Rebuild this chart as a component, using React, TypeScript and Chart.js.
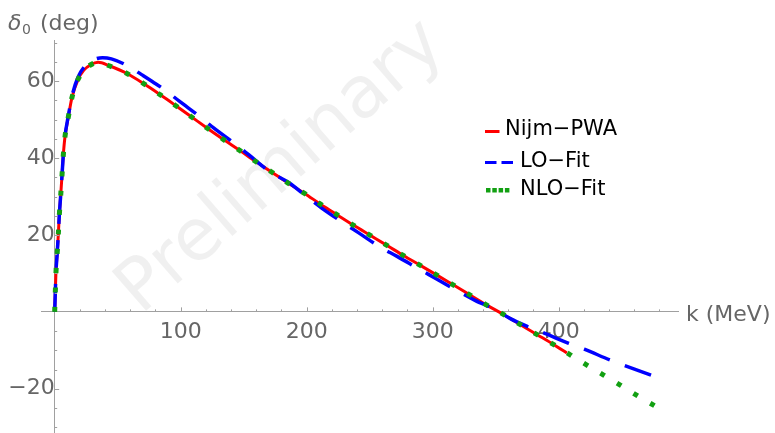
import React, { useEffect, useRef } from 'react';
import { Chart, registerables } from 'chart.js';

Chart.register(...registerables);

// Nijmegen PWA phase shift (deg) vs k (MeV)
const nijmK = [0, 0.5, 1, 2, 2.9, 3.7, 4.8, 5.8, 6.8, 8.2, 10.8, 13.7, 18.5, 23, 28.3, 34.6, 43.3, 57.4, 70.9, 83.6, 96.2, 109, 121.4, 134.1, 146.8, 159.5, 172.5, 185.2, 198.3, 211, 224.3, 237.3, 250.5, 263.7, 277, 290.2, 303.7, 316.9, 330.1, 343.3, 356.8, 370, 383.3, 396.5, 406.5];
const nijmDelta = [0, 5.1, 10.1, 15.3, 20.2, 25.3, 30.4, 35.4, 40.6, 45.6, 50.6, 55.7, 60.4, 62.8, 64.2, 64.9, 64.0, 62.0, 59.3, 56.5, 53.6, 50.6, 47.7, 44.8, 42.0, 39.1, 36.3, 33.5, 30.8, 28.0, 25.2, 22.5, 19.9, 17.3, 14.6, 12.1, 9.5, 6.9, 4.3, 1.7, -0.8, -3.4, -6.0, -8.6, -10.7];

// LO fit
const loK = [0, 0.5, 1, 2, 2.9, 3.7, 4.8, 5.8, 6.8, 8.2, 10.8, 13.7, 18.5, 25, 31, 38, 45, 57.9, 69, 78, 87.5, 98.9, 115.9, 125.9, 143.9, 154.2, 170.9, 185.4, 200, 211.9, 229.8, 241, 259.5, 271.4, 289.9, 302.4, 321.1, 333.6, 350.8, 361.3, 375.9, 389, 408, 420.3, 441.5, 476];
const loDelta = [0, 5.1, 10.1, 15.3, 20.2, 25.3, 30.4, 35.4, 40.6, 45.7, 50.9, 56.0, 61.0, 64.3, 65.6, 66.1, 65.8, 64.0, 61.7, 59.8, 57.7, 54.8, 50.6, 47.9, 43.5, 40.8, 36.4, 33.7, 30.0, 27.0, 23.0, 20.6, 16.6, 14.5, 11.0, 8.7, 5.2, 3.0, 0.4, -1.7, -3.9, -5.6, -8.2, -9.7, -12.6, -16.8];

// NLO fit
const nloK = [0, 0.5, 1, 2, 2.9, 3.7, 4.8, 5.8, 6.8, 8.2, 10.8, 13.7, 18.5, 23, 28.3, 34.6, 43.3, 57.4, 70.9, 83.6, 96.2, 109, 121.4, 134.1, 146.8, 159.5, 172.5, 185.2, 198.3, 211, 224.3, 237.3, 250.5, 263.7, 277, 290.2, 303.7, 316.9, 330.1, 343.3, 356.8, 370, 383.3, 396.5, 409.8, 422.7, 436, 449.2, 462.4, 476];
const nloDelta = [0, 5.1, 10.1, 15.3, 20.2, 25.3, 30.4, 35.4, 40.6, 45.6, 50.6, 55.7, 60.4, 62.8, 64.2, 64.9, 64.0, 62.0, 59.3, 56.5, 53.6, 50.6, 47.7, 44.8, 42.0, 39.1, 36.3, 33.5, 30.8, 28.0, 25.2, 22.5, 19.9, 17.3, 14.6, 12.1, 9.5, 6.9, 4.3, 1.7, -0.8, -3.4, -6.0, -8.6, -11.3, -13.9, -16.5, -19.1, -21.8, -24.4];

const seriesLabels = ['Nijm\u2212PWA', 'LO\u2212Fit', 'NLO\u2212Fit'];
const xRange = [-10.3, 494.7];
const yRange = [-31.5, 70.7];
const xTickValues = [100, 200, 300, 400];
const yTickValues = [-20, 20, 40, 60];
const xMinorTicks = [20, 40, 60, 80, 100, 120, 140, 160, 180, 200, 220, 240, 260, 280, 300, 320, 340, 360, 380, 400, 420, 440, 460, 480];
const yMinorTicks = [-30, -25, -20, -15, -10, -5, 5, 10, 15, 20, 25, 30, 35, 40, 45, 50, 55, 60, 65, 70];

const FONT = '"DejaVu Sans", sans-serif';
const AXIS_COLOR = '#a0a0a0';
const LABEL_COLOR = '#666666';

const toPts = (xs: number[], ys: number[]) => xs.map((x, i) => ({ x, y: ys[i] }));
const fmt = (v: number) => (v === 0 ? '' : v < 0 ? '\u2212' + Math.abs(v) : String(v));
const noPad = (s: any) => {
  s.paddingTop = 0;
  s.paddingBottom = 0;
  s.paddingLeft = 0;
  s.paddingRight = 0;
};

const decorPlugin = {
  id: 'decor',
  beforeDatasetsDraw(chart: any) {
    const ctx = chart.ctx;
    ctx.save();
    ctx.translate(282, 168);
    ctx.rotate((-41 * Math.PI) / 180);
    ctx.font = `72px ${FONT}`;
    ctx.textAlign = 'center';
    ctx.textBaseline = 'middle';
    ctx.fillStyle = 'rgba(0,0,0,0.06)';
    ctx.fillText('Preliminary', 0, 0);
    ctx.restore();
  },
  afterDraw(chart: any) {
    const ctx = chart.ctx;
    const xs = chart.scales.x;
    const ys = chart.scales.y;
    const x0 = xs.getPixelForValue(0);
    const y0 = ys.getPixelForValue(0);
    ctx.save();
    ctx.strokeStyle = AXIS_COLOR;
    ctx.lineWidth = 1;
    ctx.beginPath();
    xMinorTicks.forEach((v) => {
      const px = Math.round(xs.getPixelForValue(v)) + 0.5;
      const len = v % 100 === 0 ? 4.5 : 2.5;
      ctx.moveTo(px, y0);
      ctx.lineTo(px, y0 - len);
    });
    yMinorTicks.forEach((v) => {
      const py = Math.round(ys.getPixelForValue(v)) + 0.5;
      const len = v % 20 === 0 ? 4.5 : 2.5;
      ctx.moveTo(x0, py);
      ctx.lineTo(x0 + len, py);
    });
    ctx.stroke();

    // axis titles
    ctx.fillStyle = LABEL_COLOR;
    ctx.textBaseline = 'alphabetic';
    ctx.textAlign = 'left';
    ctx.font = `22px ${FONT}`;
    ctx.fillText('k (MeV)', 686, 321);
    ctx.font = `italic 22px ${FONT}`;
    ctx.fillText('\u03b4', 8, 30);
    ctx.font = `14px ${FONT}`;
    ctx.fillText('0', 22, 34);
    ctx.font = `22px ${FONT}`;
    ctx.fillText(' (deg)', 33, 30);

    // legend
    const ds = chart.data.datasets;
    ctx.font = `21px ${FONT}`;
    ctx.fillStyle = '#000';
    ctx.fillText(ds[0].label, 505, 135);
    ctx.fillText(ds[1].label, 520, 166.5);
    ctx.fillText(ds[2].label, 520, 195);
    ctx.lineCap = 'butt';
    ctx.strokeStyle = ds[0].borderColor;
    ctx.lineWidth = 3;
    ctx.beginPath();
    ctx.moveTo(485, 131.5);
    ctx.lineTo(499.5, 131.5);
    ctx.stroke();
    ctx.strokeStyle = ds[1].borderColor;
    ctx.beginPath();
    ctx.moveTo(485, 162.5);
    ctx.lineTo(496.5, 162.5);
    ctx.moveTo(501.5, 162.5);
    ctx.lineTo(513, 162.5);
    ctx.stroke();
    ctx.fillStyle = ds[2].borderColor;
    for (let i = 0; i < 4; i++) {
      ctx.fillRect(486 + i * 6.3, 188, 4.5, 4.5);
    }
    ctx.restore();
  },
};

export default function App() {
  const ref = useRef<HTMLCanvasElement | null>(null);
  useEffect(() => {
    if (!ref.current) return;
    const tickFont = { family: FONT, size: 22 };
    const chart = new Chart(ref.current, {
      type: 'scatter',
      data: {
        datasets: [
          {
            label: seriesLabels[0],
            data: toPts(nijmK, nijmDelta),
            showLine: true,
            borderColor: '#ff0000',
            backgroundColor: '#ff0000',
            borderWidth: 3,
            pointRadius: 0,
            cubicInterpolationMode: 'monotone',
            order: 3,
          },
          {
            label: seriesLabels[1],
            data: toPts(loK, loDelta),
            showLine: true,
            borderColor: '#0000ff',
            backgroundColor: '#0000ff',
            borderWidth: 3.5,
            borderDash: [28, 16],
            pointRadius: 0,
            cubicInterpolationMode: 'monotone',
            order: 2,
          },
          {
            label: seriesLabels[2],
            data: toPts(nloK, nloDelta),
            showLine: true,
            borderColor: '#12a012',
            backgroundColor: '#12a012',
            borderWidth: 5,
            borderDash: [5, 14.4],
            borderCapStyle: 'butt',
            pointRadius: 0,
            cubicInterpolationMode: 'monotone',
            order: 1,
          },
        ] as any,
      },
      options: {
        responsive: false,
        animation: false,
        layout: { padding: { left: 41.7, top: 40, right: 97, bottom: 0 } },
        plugins: { legend: { display: false }, tooltip: { enabled: false } },
        scales: {
          x: {
            type: 'linear',
            min: xRange[0],
            max: xRange[1],
            position: { y: 0 } as any,
            afterBuildTicks: (s: any) => {
              s.ticks = xTickValues.map((value) => ({ value }));
            },
            afterFit: noPad,
            grid: { display: false, drawTicks: false, drawOnChartArea: false },
            border: { display: true, color: AXIS_COLOR, width: 1 },
            ticks: {
              autoSkip: false,
              maxRotation: 0,
              padding: 7,
              color: LABEL_COLOR,
              font: tickFont,
              callback: (v: any) => fmt(Number(v)),
            },
          },
          y: {
            type: 'linear',
            min: yRange[0],
            max: yRange[1],
            position: { x: 0 } as any,
            afterBuildTicks: (s: any) => {
              s.ticks = yTickValues.map((value) => ({ value }));
            },
            afterFit: noPad,
            grid: { display: false, drawTicks: false, drawOnChartArea: false },
            border: { display: true, color: AXIS_COLOR, width: 1 },
            ticks: {
              autoSkip: false,
              padding: 5,
              color: LABEL_COLOR,
              font: tickFont,
              callback: (v: any) => fmt(Number(v)),
            },
          },
        },
      } as any,
      plugins: [decorPlugin],
    });
    return () => chart.destroy();
  }, []);
  return (
    <div style={{ position: 'fixed', left: 0, top: 0, width: 775, height: 433, background: '#fff' }}>
      <canvas ref={ref} width={775} height={433} style={{ display: 'block' }} />
    </div>
  );
}
